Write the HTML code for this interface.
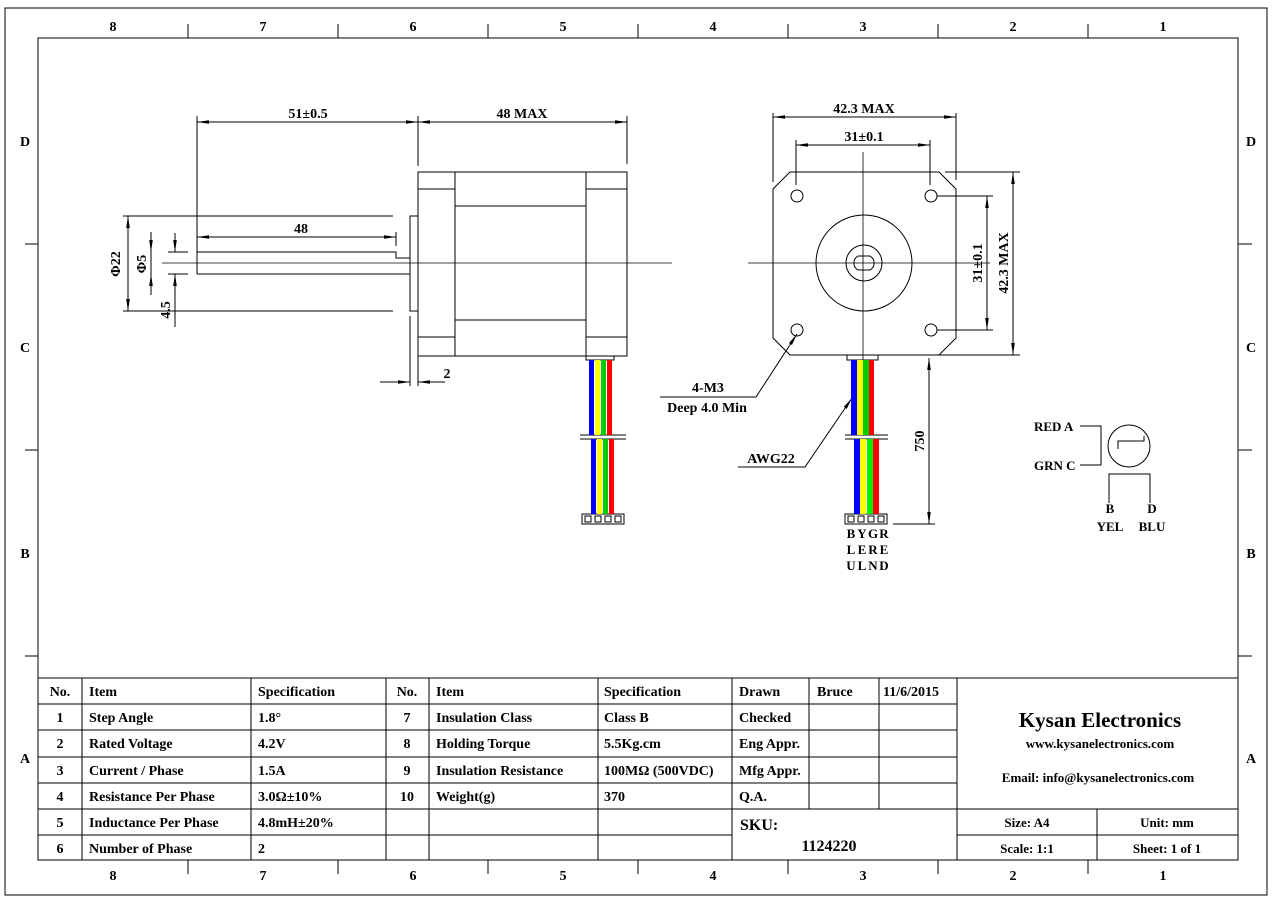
<!DOCTYPE html>
<html><head><meta charset="utf-8"><style>
html,body{margin:0;padding:0;background:#fff}
svg{display:block}
text{font-family:"Liberation Serif","Noto Serif CJK SC",serif;font-weight:bold;fill:#000}
</style></head><body>
<svg width="1286" height="909" viewBox="0 0 1286 909" xmlns="http://www.w3.org/2000/svg">
<defs>
<marker id="a" viewBox="0 0 12 6" refX="12" refY="3" markerWidth="12" markerHeight="6" orient="auto-start-reverse" markerUnits="userSpaceOnUse"><path d="M0,1.2 L12,3 L0,4.8z" fill="#000"/></marker>
</defs>
<g fill="none" stroke="#000" stroke-width="1">
<rect x="5" y="8" width="1262" height="887"/>
<rect x="38" y="38" width="1200" height="822"/>
<!-- zone ticks -->
<path d="M188 24V38M338 24V38M488 24V38M638 24V38M788 24V38M938 24V38M1088 24V38M188 860V874M338 860V874M488 860V874M638 860V874M788 860V874M938 860V874M1088 860V874"/>
<path d="M25 244H38M25 450H38M25 656H38M1238 244H1252M1238 450H1252M1238 656H1252"/>
<!-- table -->
<path d="M38 678H1238M38 704H957M38 730H957M38 757H957M38 783H957M38 809H1238M38 835H732M957 835H1238"/>
<path d="M82 678V860M251 678V860M386 678V860M429 678V860M598 678V860M732 678V860M809 678V809M879 678V809M957 678V860M1097 809V860"/>
<!-- side view motor -->
<rect x="418" y="172" width="209" height="184"/>
<path d="M455 172V356M586 172V356M418 189H455M586 189H627M418 337H455M586 337H627M455 206H586M455 320H586"/>
<rect x="410" y="216" width="8" height="95"/>
<path d="M197 252H396V258H410M197 274H410M197 252V274"/>
<path d="M162 263H672" stroke-width="0.8"/>
<!-- dims side -->
<path d="M197 116V252M418 116V166M627 116V164"/>
<path d="M197 122H418" marker-start="url(#a)" marker-end="url(#a)"/>
<path d="M418 122H627" marker-start="url(#a)" marker-end="url(#a)"/>
<path d="M396 232V246"/>
<path d="M197 237H396" marker-start="url(#a)" marker-end="url(#a)"/>
<path d="M123 216H393M123 311H393"/>
<path d="M128 216V311" marker-start="url(#a)" marker-end="url(#a)"/>
<path d="M168 252H188M168 274H188"/>
<path d="M151 232V252" marker-end="url(#a)"/><path d="M151 295V274" marker-end="url(#a)"/>
<path d="M151 252V274"/>
<path d="M175 233V252" marker-end="url(#a)"/><path d="M175 327V274" marker-end="url(#a)"/>
<path d="M410 316V386M418 356V386"/>
<path d="M380 382H410" marker-end="url(#a)"/><path d="M445 382H418" marker-end="url(#a)"/>
<!-- front view -->
<path d="M790 172H939L956 189V338L939 355H790L773 338V189Z"/>
<circle cx="797" cy="196" r="6"/><circle cx="931" cy="196" r="6"/><circle cx="797" cy="330" r="6"/><circle cx="931" cy="330" r="6"/>
<circle cx="864" cy="263" r="48"/><circle cx="864" cy="263" r="18"/>
<path d="M858 256H870A8 8 0 0 1 870 270H858A8 8 0 0 1 858 256Z"/>
<path d="M748 263H990M863 152V380" stroke-width="0.8"/>
<path d="M773 113V182M956 113V180"/>
<path d="M773 117H956" marker-start="url(#a)" marker-end="url(#a)"/>
<path d="M796 140V185M930 140V185"/>
<path d="M796 145H930" marker-start="url(#a)" marker-end="url(#a)"/>
<path d="M937 196H993M937 330H993"/>
<path d="M987 196V330" marker-start="url(#a)" marker-end="url(#a)"/>
<path d="M945 172H1020M938 355H1020"/>
<path d="M1013 172V355" marker-start="url(#a)" marker-end="url(#a)"/>
<path d="M893 524H935"/>
<path d="M929 358V524" marker-start="url(#a)" marker-end="url(#a)"/>
<path d="M660 397H756L797 334" marker-end="url(#a)"/>
<path d="M738 467H805L852 398" marker-end="url(#a)"/>
<!-- connectors -->
<path d="M586 356V360H614V356M847 355V360H878V355"/>
<path d="M580 435H626M580 439H626M845 435H888M845 439H888"/>
<rect x="582" y="514" width="42" height="10"/>
<rect x="845" y="514" width="42" height="10"/>
<!-- schematic -->
<circle cx="1129" cy="446" r="21"/>
<path d="M1118 449V441H1144V436"/>
<path d="M1080 426H1101V465H1080"/>
<path d="M1109 503V474H1150V503"/>
</g>
<!-- wires -->
<g>
<rect x="589" y="360" width="5" height="75" fill="#0000ff"/><rect x="595" y="360" width="5" height="75" fill="#ffff00"/><rect x="601" y="360" width="5" height="75" fill="#00cc00"/><rect x="607" y="360" width="5" height="75" fill="#ff0000"/>
<rect x="591" y="439" width="5" height="75" fill="#0000ff"/><rect x="597" y="439" width="5" height="75" fill="#ffff00"/><rect x="603" y="439" width="5" height="75" fill="#00cc00"/><rect x="609" y="439" width="5" height="75" fill="#ff0000"/>
<rect x="851" y="360" width="6" height="75" fill="#0000ff"/><rect x="857" y="360" width="6" height="75" fill="#ffff00"/><rect x="863" y="360" width="6" height="75" fill="#00cc00"/><rect x="869" y="360" width="5" height="75" fill="#ff0000"/>
<rect x="854" y="439" width="6" height="75" fill="#0000ff"/><rect x="860" y="439" width="6" height="75" fill="#ffff00"/><rect x="867" y="439" width="6" height="75" fill="#00ee00"/><rect x="873" y="439" width="6" height="75" fill="#ff0000"/>
<g fill="none" stroke="#000"><rect x="585" y="516" width="6" height="6"/><rect x="595" y="516" width="6" height="6"/><rect x="605" y="516" width="6" height="6"/><rect x="615" y="516" width="6" height="6"/>
<rect x="848" y="516" width="6" height="6"/><rect x="858" y="516" width="6" height="6"/><rect x="868" y="516" width="6" height="6"/><rect x="878" y="516" width="6" height="6"/></g>
</g>
<!-- zone labels -->
<g font-size="14" text-anchor="middle">
<text x="113" y="31">8</text><text x="263" y="31">7</text><text x="413" y="31">6</text><text x="563" y="31">5</text><text x="713" y="31">4</text><text x="863" y="31">3</text><text x="1013" y="31">2</text><text x="1163" y="31">1</text>
<text x="113" y="880">8</text><text x="263" y="880">7</text><text x="413" y="880">6</text><text x="563" y="880">5</text><text x="713" y="880">4</text><text x="863" y="880">3</text><text x="1013" y="880">2</text><text x="1163" y="880">1</text>
<text x="25" y="146">D</text><text x="25" y="352">C</text><text x="25" y="558">B</text><text x="25" y="763">A</text>
<text x="1251" y="146">D</text><text x="1251" y="352">C</text><text x="1251" y="558">B</text><text x="1251" y="763">A</text>
</g>
<!-- dim text -->
<g font-size="14" text-anchor="middle">
<text x="308" y="118">51±0.5</text><text x="522" y="118">48 MAX</text>
<text x="301" y="233">48</text><text x="447" y="378">2</text>
<text x="120" y="264" transform="rotate(-90 120 264)">Φ22</text>
<text x="146" y="264" transform="rotate(-90 146 264)">Φ5</text>
<text x="170" y="310" transform="rotate(-90 170 310)">4.5</text>
<text x="864" y="113">42.3 MAX</text><text x="864" y="141">31±0.1</text>
<text x="982" y="263" transform="rotate(-90 982 263)">31±0.1</text>
<text x="1008" y="263" transform="rotate(-90 1008 263)">42.3 MAX</text>
<text x="924" y="441" transform="rotate(-90 924 441)">750</text>
<text x="708" y="392">4-M3</text><text x="707" y="412">Deep 4.0 Min</text>
<text x="771" y="463">AWG22</text>
</g>
<g font-size="13" text-anchor="middle">
<text x="851" y="538">B</text><text x="862" y="538">Y</text><text x="873" y="538">G</text><text x="884" y="538">R</text>
<text x="851" y="554">L</text><text x="862" y="554">E</text><text x="873" y="554">R</text><text x="884" y="554">E</text>
<text x="851" y="570">U</text><text x="862" y="570">L</text><text x="873" y="570">N</text><text x="884" y="570">D</text>
<text x="1110" y="513">B</text><text x="1152" y="513">D</text>
<text x="1110" y="531">YEL</text><text x="1152" y="531">BLU</text>
</g>
<g font-size="13">
<text x="1034" y="431">RED A</text><text x="1034" y="470">GRN C</text>
</g>
<!-- table text -->
<g font-size="14">
<g text-anchor="middle"><text x="60" y="696">No.</text><text x="60" y="722">1</text><text x="60" y="748">2</text><text x="60" y="775">3</text><text x="60" y="801">4</text><text x="60" y="827">5</text><text x="60" y="853">6</text>
<text x="407" y="696">No.</text><text x="407" y="722">7</text><text x="407" y="748">8</text><text x="407" y="775">9</text><text x="407" y="801">10</text></g>
<text x="89" y="696">Item</text><text x="89" y="722">Step Angle</text><text x="89" y="748">Rated Voltage</text><text x="89" y="775">Current / Phase</text><text x="89" y="801">Resistance Per Phase</text><text x="89" y="827">Inductance Per Phase</text><text x="89" y="853">Number of Phase</text>
<text x="258" y="696">Specification</text><text x="258" y="722">1.8°</text><text x="258" y="748">4.2V</text><text x="258" y="775">1.5A</text><text x="258" y="801">3.0Ω±10%</text><text x="258" y="827">4.8mH±20%</text><text x="258" y="853">2</text>
<text x="436" y="696">Item</text><text x="436" y="722">Insulation Class</text><text x="436" y="748">Holding Torque</text><text x="436" y="775">Insulation Resistance</text><text x="436" y="801">Weight(g)</text>
<text x="604" y="696">Specification</text><text x="604" y="722">Class B</text><text x="604" y="748">5.5Kg.cm</text><text x="604" y="775">100MΩ (500VDC)</text><text x="604" y="801">370</text>
<text x="739" y="696">Drawn</text><text x="739" y="722">Checked</text><text x="739" y="748">Eng Appr.</text><text x="739" y="775">Mfg Appr.</text><text x="739" y="801">Q.A.</text>
<text x="817" y="696">Bruce</text><text x="883" y="696">11/6/2015</text>
<text x="740" y="830" font-size="16">SKU:</text>
<text x="829" y="851" font-size="16" text-anchor="middle">1124220</text>
<text x="1100" y="727" font-size="21" text-anchor="middle">Kysan Electronics</text>
<text x="1100" y="748" font-size="13" text-anchor="middle">www.kysanelectronics.com</text>
<text x="1098" y="782" font-size="13" text-anchor="middle">Email: info@kysanelectronics.com</text>
<text x="1027" y="827" font-size="13" text-anchor="middle">Size: A4</text><text x="1167" y="827" font-size="13" text-anchor="middle">Unit: mm</text>
<text x="1027" y="853" font-size="13" text-anchor="middle">Scale: 1:1</text><text x="1167" y="853" font-size="13" text-anchor="middle">Sheet: 1 of 1</text>
</g>
</svg>
</body></html>
